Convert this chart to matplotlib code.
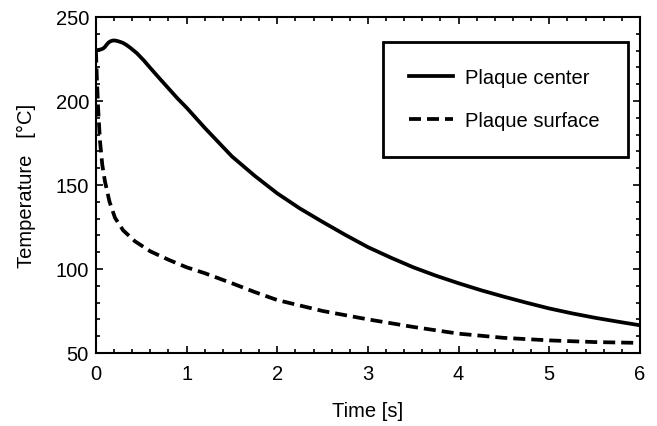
import matplotlib
matplotlib.use("Agg")
import matplotlib.pyplot as plt
from matplotlib.ticker import MultipleLocator

plt.rcParams["font.family"] = ["Liberation Sans", "DejaVu Sans"]

# plaque center temperature (s, degC)
center_t = [0, 0.02, 0.05, 0.08, 0.1, 0.12, 0.14, 0.16, 0.19, 0.22, 0.26, 0.3, 0.34, 0.38,
            0.45, 0.53, 0.61, 0.7, 0.8, 0.9, 1.0, 1.1, 1.2, 1.35, 1.5, 1.75, 2.0, 2.25,
            2.5, 2.75, 3.0, 3.25, 3.5, 3.75, 4.0, 4.25, 4.5, 4.75, 5.0, 5.25, 5.5, 5.75, 6.0]
center_T = [230, 230.3, 230.6, 231.2, 232.2, 233.6, 234.8, 235.5, 236, 235.9, 235.3, 234.5, 233.2, 231.6,
            228.5, 224, 219, 213.5, 207.5, 201.5, 196, 190, 184, 175.5, 167, 155.5, 145, 136,
            128, 120.3, 113, 106.8, 101, 96, 91.5, 87.3, 83.5, 79.9, 76.5, 73.6, 71, 68.7, 66.5]

# plaque surface temperature (s, degC)
surface_t = [0, 0.01, 0.025, 0.045, 0.07, 0.1, 0.15, 0.21, 0.3, 0.43, 0.6, 0.8,
             1.0, 1.2, 1.5, 1.75, 2.0, 2.5, 3.0, 3.5, 4.0, 4.5, 5.0, 5.5, 6.0]
surface_T = [230, 214, 195, 176, 162, 152, 140, 130.5, 123, 116.5, 110.5, 105.5,
             101, 97.5, 91.5, 86.3, 81.5, 75, 70, 65.5, 61.5, 59, 57.5, 56.5, 56]

fig = plt.figure(figsize=(6.57, 4.27), dpi=100)
ax = fig.add_axes([0.146, 0.171, 0.828, 0.787])

ax.plot(center_t, center_T, color="black", lw=2.7, label="Plaque center",
        solid_joinstyle="round")
ax.plot(surface_t, surface_T, color="black", lw=2.7, ls=(0, (3.2, 1.6)),
        label="Plaque surface", dash_capstyle="butt")

ax.set_xlim(0, 6)
ax.set_ylim(50, 250)
ax.xaxis.set_major_locator(MultipleLocator(1))
ax.xaxis.set_minor_locator(MultipleLocator(0.2))
ax.yaxis.set_major_locator(MultipleLocator(50))
ax.yaxis.set_minor_locator(MultipleLocator(10))

ax.tick_params(which="both", direction="in", top=True, right=True, width=1.2,
               labelsize=14.5)
ax.tick_params(which="major", length=5)
ax.tick_params(which="minor", length=3)
ax.tick_params(axis="x", pad=8)
ax.tick_params(axis="y", pad=5)
for s in ax.spines.values():
    s.set_linewidth(1.5)

ax.set_xlabel("Time [s]", fontsize=14.5, labelpad=13)
ax.set_ylabel("Temperature   [°C]", fontsize=14.5, labelpad=14)

leg = ax.legend(loc="upper left", bbox_to_anchor=(0.527, 0.925, 0.451, 0.0),
                mode="expand", borderaxespad=0, fontsize=14.5, fancybox=False,
                edgecolor="black", framealpha=1, borderpad=1.3, labelspacing=1.2,
                handlelength=2.2, handletextpad=0.6)
leg.get_frame().set_linewidth(2)

fig.savefig("out.png", dpi=100)
